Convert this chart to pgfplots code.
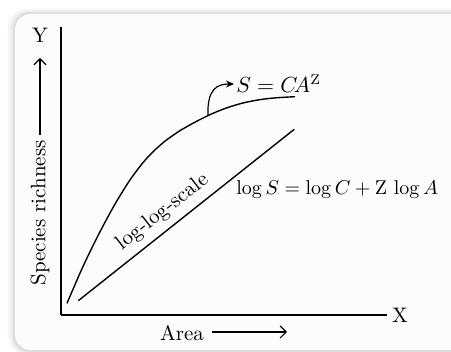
\documentclass[border=0pt]{standalone}
\usepackage{pgfplots}
\pgfplotsset{compat=1.18}
\usetikzlibrary{arrows.meta}
\begin{document}
\begin{tikzpicture}[font=\fontsize{10.5}{12.5}\selectfont]
\useasboundingbox (-30.5pt,-18.5pt) rectangle (195pt,157.5pt);
\fill[white] (-30.5pt,-18.5pt) rectangle (195pt,157.5pt);
% shadow layers
\fill[black!4, rounded corners=9pt] (-26.5pt,-19.5pt) rectangle (210pt,153pt);
\fill[black!8, rounded corners=8.5pt] (-25pt,-19pt) rectangle (210pt,152pt);
\fill[black!13, rounded corners=8pt] (-24pt,-18.5pt) rectangle (210pt,151.3pt);
\fill[black!1, rounded corners=8pt] (-23pt,-17.5pt) rectangle (210pt,150.5pt);
\begin{axis}[at={(0,0)}, anchor=origin, scale only axis,
  width=163pt, height=144pt,
  xmin=0, xmax=326, ymin=0, ymax=288,
  axis lines=left, axis line style={-, line width=0.6pt},
  ticks=none, clip=false]
\addplot[smooth, black, line width=0.7pt] coordinates {
 (6,11.7) (22,48.5) (38,81.3) (54,110.9) (70,136.5) (86,157) (102,172.2)
 (118,183.7) (134,192.8) (150,200.8) (166,207.2) (182,212) (198,215.2)
 (214,217.1) (234,218.3)};
\addplot[black, line width=0.7pt] coordinates {(17.3,14.3) (233.3,185.7)};
\draw[-{Stealth[length=4pt,width=3.5pt]}, line width=0.6pt]
  (axis cs:147,199.3) .. controls (axis cs:146,226) and (axis cs:156,231) .. (axis cs:173,231);
\node[anchor=west, inner sep=0pt] at (axis cs:175,231) {$S = C\!A^{\mathrm{Z}}$};
\node[anchor=west, inner sep=0pt, font=\fontsize{10}{12}\selectfont] at (axis cs:175,125) {$\log S =\log C + \mathrm{Z}\,\log A$};
\node[rotate=38] at (axis cs:101.5,103) {log-log-scale};
\node[rotate=90] at (axis cs:-21,102) {Species richness};
\draw[-{Straight Barb[length=3pt]}, line width=0.6pt] (axis cs:-21,180) -- (axis cs:-21,257);
\node at (axis cs:-21,280) {Y};
\node at (axis cs:339,0) {X};
\node at (axis cs:121,-18) {Area};
\draw[-{Straight Barb[length=3pt]}, line width=0.6pt] (axis cs:151,-17) -- (axis cs:226,-17);
\end{axis}
\end{tikzpicture}
\end{document}
